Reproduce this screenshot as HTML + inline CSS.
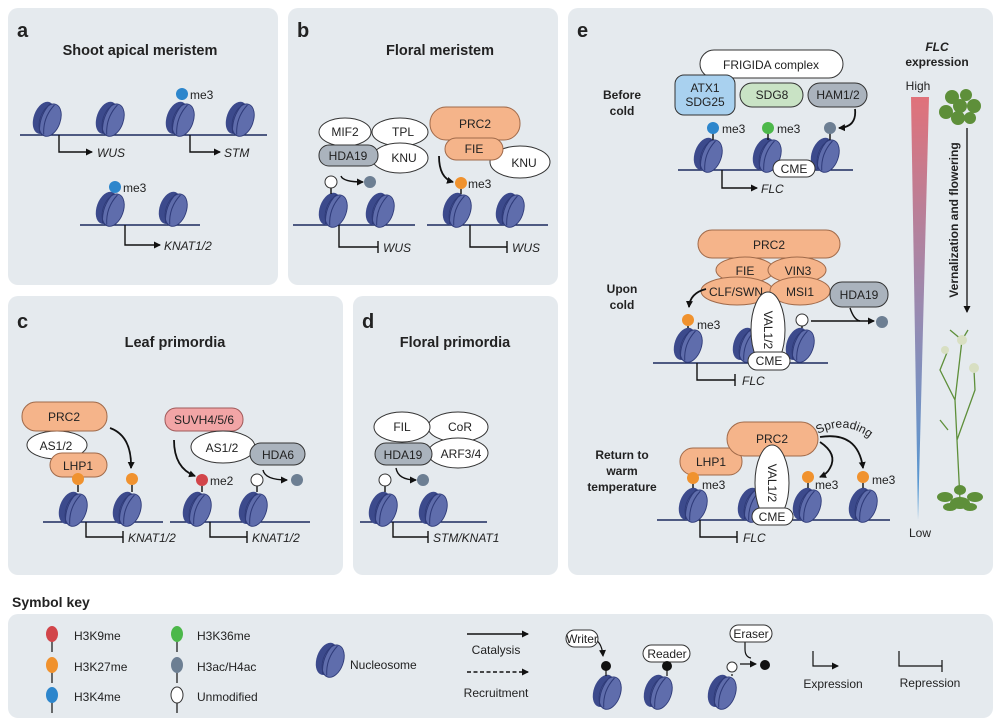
<!DOCTYPE html>
<html><head><meta charset="utf-8"><style>
html,body{margin:0;padding:0;background:#fff}
svg{display:block}
text{font-family:"Liberation Sans",sans-serif;fill:#222}
.t{font-size:12px}
.b{font-weight:bold}
.i{font-style:italic}
.h{font-size:14.5px;font-weight:bold}
.L{font-size:20px;font-weight:bold}
</style></head><body>
<svg width="1000" height="725" viewBox="0 0 1000 725" xmlns="http://www.w3.org/2000/svg">
<defs>
<g id="nuc"><g transform="translate(0,2) scale(1.12) rotate(20)">
<ellipse cx="-3" cy="0" rx="9" ry="15" fill="#3c4a8c"/>
<ellipse cx="3" cy="0" rx="9" ry="15" fill="#5f6dac" stroke="#2e3a78" stroke-width="0.8"/>
<path d="M-2,-14 q-6 14 0 28 M2,-14 q-6 14 0 28" stroke="#2e3a78" fill="none" stroke-width="0.9"/>
</g></g>
<marker id="ah" markerWidth="8" markerHeight="8" refX="6" refY="4" orient="auto" markerUnits="userSpaceOnUse"><path d="M0,0.5 L7,4 L0,7.5z" fill="#111"/></marker>
<linearGradient id="gr" x1="0" y1="0" x2="0" y2="1"><stop offset="0" stop-color="#e0727a"/><stop offset="0.5" stop-color="#9a8ab0"/><stop offset="1" stop-color="#4a9ad8"/></linearGradient>
</defs>

<g fill="#e5eaee">
<rect x="8" y="8" width="270" height="277" rx="10"/>
<rect x="288" y="8" width="270" height="277" rx="10"/>
<rect x="8" y="296" width="335" height="279" rx="10"/>
<rect x="353" y="296" width="205" height="279" rx="10"/>
<rect x="568" y="8" width="425" height="567" rx="10"/>
<rect x="8" y="614" width="985" height="104" rx="10"/>
</g>

<g stroke="#1d2a5e" stroke-width="1.6" fill="none">
<path d="M20,135 H150 M147,135 H267 M80,225 H200 M293,225 H415 M427,225 H548 M43,522 H163 M170,522 H310 M360,522 H487 M678,170 H853 M653,363 H828 M657,520 H890"/>
</g>

<!-- panel a -->
<text x="17" y="37" class="L">a</text>
<text x="140" y="55" class="h" text-anchor="middle">Shoot apical meristem</text>
<use href="#nuc" x="47" y="117"/><use href="#nuc" x="110" y="117"/>
<use href="#nuc" x="180" y="117"/><use href="#nuc" x="240" y="117"/>
<use href="#nuc" x="110" y="207"/><use href="#nuc" x="173" y="207"/>
<g stroke="#111" stroke-width="1.4" fill="none">
<path d="M59,135 V152 H92" marker-end="url(#ah)"/>
<path d="M190,135 V152 H220" marker-end="url(#ah)"/>
<path d="M125,225 V245 H160" marker-end="url(#ah)"/>
<path d="M182,100 V94 M115,190 V187"/>
</g>
<circle cx="182" cy="94" r="6" fill="#2d86cc"/><text x="190" y="99" class="t">me3</text>
<circle cx="115" cy="187" r="6" fill="#2d86cc"/><text x="123" y="192" class="t">me3</text>
<text x="97" y="157" class="t i">WUS</text>
<text x="224" y="157" class="t i">STM</text>
<text x="164" y="250" class="t i">KNAT1/2</text>

<!-- panel b -->
<text x="297" y="37" class="L">b</text>
<text x="440" y="55" class="h" text-anchor="middle">Floral meristem</text>
<g stroke="#333" stroke-width="1">
<ellipse cx="400" cy="132" rx="28" ry="14" fill="#fff"/>
<ellipse cx="400" cy="158" rx="28" ry="15" fill="#fff"/>
<ellipse cx="345" cy="132" rx="26" ry="14" fill="#fff"/>
<rect x="319" y="145" width="59" height="21" rx="10" fill="#aab3bd"/>
<ellipse cx="520" cy="162" rx="30" ry="16" fill="#fff"/>
<rect x="430" y="107" width="90" height="33" rx="16" fill="#f5b48a" stroke="#a06a4a"/>
<rect x="445" y="138" width="58" height="22" rx="11" fill="#f5b48a" stroke="#a06a4a"/>
</g>
<text x="345" y="136" class="t" text-anchor="middle">MIF2</text>
<text x="403" y="136" class="t" text-anchor="middle">TPL</text>
<text x="348" y="160" class="t" text-anchor="middle">HDA19</text>
<text x="404" y="162" class="t" text-anchor="middle">KNU</text>
<text x="475" y="128" class="t" text-anchor="middle">PRC2</text>
<text x="474" y="153" class="t" text-anchor="middle">FIE</text>
<text x="524" y="167" class="t" text-anchor="middle">KNU</text>
<use href="#nuc" x="333" y="208"/><use href="#nuc" x="380" y="208"/>
<use href="#nuc" x="457" y="208"/><use href="#nuc" x="510" y="208"/>
<g stroke="#111" stroke-width="1.4" fill="none">
<path d="M339,225 V247 H378 M378,241 V253 M470,225 V247 H507 M507,241 V253"/>
<path d="M341,176 q2,6 22,6" marker-end="url(#ah)"/>
<path d="M439,156 q0,22 14,26" marker-end="url(#ah)" stroke-width="1.8"/>
<path d="M331,194 V188 M461,194 V189"/>
</g>
<circle cx="331" cy="182" r="6" fill="#fff" stroke="#333"/>
<circle cx="370" cy="182" r="6" fill="#6d7f93"/>
<circle cx="461" cy="183" r="6" fill="#f0922e"/><text x="468" y="188" class="t">me3</text>
<text x="383" y="252" class="t i">WUS</text>
<text x="512" y="252" class="t i">WUS</text>

<!-- panel c -->
<text x="17" y="328" class="L">c</text>
<text x="175" y="347" class="h" text-anchor="middle">Leaf primordia</text>
<g stroke="#333" stroke-width="1">
<ellipse cx="57" cy="445" rx="30" ry="14" fill="#fff"/>
<rect x="22" y="402" width="85" height="29" rx="14" fill="#f5b48a" stroke="#a06a4a"/>
<rect x="50" y="453" width="57" height="24" rx="12" fill="#f5b48a" stroke="#a06a4a"/>
<rect x="165" y="408" width="78" height="23" rx="11" fill="#f2a5a6" stroke="#a05a5a"/>
<ellipse cx="223" cy="447" rx="32" ry="16" fill="#fff"/>
<rect x="250" y="443" width="55" height="22" rx="11" fill="#aab3bd"/>
</g>
<text x="64" y="421" class="t" text-anchor="middle">PRC2</text>
<text x="56" y="450" class="t" text-anchor="middle">AS1/2</text>
<text x="78" y="470" class="t" text-anchor="middle">LHP1</text>
<text x="204" y="424" class="t" text-anchor="middle">SUVH4/5/6</text>
<text x="222" y="452" class="t" text-anchor="middle">AS1/2</text>
<text x="278" y="459" class="t" text-anchor="middle">HDA6</text>
<use href="#nuc" x="73" y="507"/><use href="#nuc" x="127" y="507"/>
<use href="#nuc" x="197" y="507"/><use href="#nuc" x="253" y="507"/>
<g stroke="#111" stroke-width="1.4" fill="none">
<path d="M86,522 V537 H123 M123,531 V543 M210,522 V537 H247 M247,531 V543"/>
<path d="M110,428 q22,8 21,40" marker-end="url(#ah)" stroke-width="1.8"/>
<path d="M174,440 q0,28 21,36" marker-end="url(#ah)" stroke-width="1.8"/>
<path d="M263,470 q2,10 24,10" marker-end="url(#ah)"/>
<path d="M78,492 V485 M132,492 V485 M202,492 V486 M257,492 V486"/>
</g>
<circle cx="78" cy="479" r="6" fill="#f0922e"/>
<circle cx="132" cy="479" r="6" fill="#f0922e"/>
<circle cx="202" cy="480" r="6" fill="#d2454a"/><text x="210" y="485" class="t">me2</text>
<circle cx="257" cy="480" r="6" fill="#fff" stroke="#333"/>
<circle cx="297" cy="480" r="6" fill="#6d7f93"/>
<text x="128" y="542" class="t i">KNAT1/2</text>
<text x="252" y="542" class="t i">KNAT1/2</text>

<!-- panel d -->
<text x="362" y="328" class="L">d</text>
<text x="455" y="347" class="h" text-anchor="middle">Floral primordia</text>
<g stroke="#333" stroke-width="1">
<ellipse cx="458" cy="427" rx="30" ry="15" fill="#fff"/>
<ellipse cx="458" cy="453" rx="30" ry="15" fill="#fff"/>
<ellipse cx="402" cy="427" rx="28" ry="15" fill="#fff"/>
<rect x="375" y="443" width="57" height="22" rx="11" fill="#aab3bd"/>
</g>
<text x="402" y="431" class="t" text-anchor="middle">FIL</text>
<text x="460" y="431" class="t" text-anchor="middle">CoR</text>
<text x="403" y="459" class="t" text-anchor="middle">HDA19</text>
<text x="461" y="458" class="t" text-anchor="middle">ARF3/4</text>
<use href="#nuc" x="383" y="507"/><use href="#nuc" x="433" y="507"/>
<g stroke="#111" stroke-width="1.4" fill="none">
<path d="M393,522 V537 H428 M428,531 V543"/>
<path d="M396,468 q2,12 20,12" marker-end="url(#ah)"/>
<path d="M385,492 V486"/>
</g>
<circle cx="385" cy="480" r="6" fill="#fff" stroke="#333"/>
<circle cx="423" cy="480" r="6" fill="#6d7f93"/>
<text x="433" y="542" class="t i">STM/KNAT1</text>

<!-- panel e -->
<text x="577" y="37" class="L">e</text>
<text x="622" y="99" class="t b" text-anchor="middle" font-size="12.5">Before</text>
<text x="622" y="115" class="t b" text-anchor="middle" font-size="12.5">cold</text>
<text x="622" y="293" class="t b" text-anchor="middle" font-size="12.5">Upon</text>
<text x="622" y="309" class="t b" text-anchor="middle" font-size="12.5">cold</text>
<text x="622" y="459" class="t b" text-anchor="middle" font-size="12.5">Return to</text>
<text x="622" y="475" class="t b" text-anchor="middle" font-size="12.5">warm</text>
<text x="622" y="491" class="t b" text-anchor="middle" font-size="12.5">temperature</text>

<g stroke="#333" stroke-width="1">
<rect x="700" y="50" width="143" height="28" rx="14" fill="#fff"/>
<rect x="740" y="83" width="63" height="24" rx="12" fill="#c9e3c5"/>
<rect x="808" y="83" width="59" height="24" rx="12" fill="#aab3bd"/>
<rect x="675" y="75" width="60" height="40" rx="9" fill="#a9d1ef"/>
</g>
<text x="771" y="69" class="t" text-anchor="middle">FRIGIDA complex</text>
<text x="705" y="92" class="t" text-anchor="middle">ATX1</text>
<text x="705" y="106" class="t" text-anchor="middle">SDG25</text>
<text x="772" y="99" class="t" text-anchor="middle">SDG8</text>
<text x="838" y="99" class="t" text-anchor="middle">HAM1/2</text>
<use href="#nuc" x="708" y="153"/><use href="#nuc" x="767" y="153"/><use href="#nuc" x="825" y="153"/>
<rect x="773" y="160" width="42" height="17" rx="8.5" fill="#fff" stroke="#333"/>
<text x="794" y="173" class="t" text-anchor="middle">CME</text>
<g stroke="#111" stroke-width="1.4" fill="none">
<path d="M722,170 V188 H757" marker-end="url(#ah)"/>
<path d="M855,109 q2,18 -16,19" marker-end="url(#ah)" stroke-width="1.8"/>
<path d="M713,140 V133 M768,140 V133 M830,140 V133"/>
</g>
<circle cx="713" cy="128" r="6" fill="#2d86cc"/><text x="722" y="133" class="t">me3</text>
<circle cx="768" cy="128" r="6" fill="#4cb84a"/><text x="777" y="133" class="t">me3</text>
<circle cx="830" cy="128" r="6" fill="#6d7f93"/>
<text x="761" y="193" class="t i">FLC</text>

<g stroke="#a06a4a" stroke-width="1" fill="#f5b48a">
<rect x="698" y="230" width="142" height="28" rx="14"/>
<ellipse cx="745" cy="270" rx="29" ry="13"/>
<ellipse cx="797" cy="270" rx="29" ry="13"/>
<ellipse cx="737" cy="291" rx="36" ry="14"/>
<ellipse cx="800" cy="291" rx="30" ry="14"/>
</g>
<rect x="830" y="282" width="58" height="25" rx="12" fill="#aab3bd" stroke="#333"/>
<text x="769" y="249" class="t" text-anchor="middle">PRC2</text>
<text x="745" y="275" class="t" text-anchor="middle">FIE</text>
<text x="798" y="275" class="t" text-anchor="middle">VIN3</text>
<text x="736" y="296" class="t" text-anchor="middle">CLF/SWN</text>
<text x="800" y="296" class="t" text-anchor="middle">MSI1</text>
<text x="859" y="299" class="t" text-anchor="middle">HDA19</text>
<use href="#nuc" x="688" y="343"/><use href="#nuc" x="747" y="343"/><use href="#nuc" x="800" y="343"/>
<ellipse cx="768" cy="330" rx="17" ry="38" fill="#fff" stroke="#333"/>
<text x="768" y="330" class="t" text-anchor="middle" transform="rotate(90 768 330)" dy="4">VAL1/2</text>
<rect x="748" y="352" width="42" height="18" rx="9" fill="#fff" stroke="#333"/>
<text x="769" y="365" class="t" text-anchor="middle">CME</text>
<g stroke="#111" stroke-width="1.4" fill="none">
<path d="M697,363 V380 H735 M735,374 V386"/>
<path d="M706,289 q-16,4 -17,18" marker-end="url(#ah)" stroke-width="1.8"/>
<path d="M811,321 H874" marker-end="url(#ah)"/>
<path d="M850,308 q4,12 10,13"/>
<path d="M688,328 V326 M802,328 V326"/>
</g>
<circle cx="688" cy="320" r="6" fill="#f0922e"/><text x="697" y="329" class="t">me3</text>
<circle cx="802" cy="320" r="6" fill="#fff" stroke="#333"/>
<circle cx="882" cy="322" r="6" fill="#6d7f93"/>
<text x="742" y="385" class="t i">FLC</text>

<g stroke="#a06a4a" stroke-width="1" fill="#f5b48a">
<rect x="680" y="448" width="62" height="27" rx="13"/>
<rect x="727" y="422" width="91" height="34" rx="17"/>
</g>
<text x="711" y="466" class="t" text-anchor="middle">LHP1</text>
<text x="772" y="443" class="t" text-anchor="middle">PRC2</text>
<use href="#nuc" x="693" y="503"/><use href="#nuc" x="752" y="503"/><use href="#nuc" x="807" y="503"/><use href="#nuc" x="863" y="503"/>
<ellipse cx="772" cy="483" rx="17" ry="38" fill="#fff" stroke="#333"/>
<text x="772" y="483" class="t" text-anchor="middle" transform="rotate(90 772 483)" dy="4">VAL1/2</text>
<rect x="752" y="508" width="41" height="17" rx="8.5" fill="#fff" stroke="#333"/>
<text x="772" y="521" class="t" text-anchor="middle">CME</text>
<g stroke="#111" stroke-width="1.4" fill="none">
<path d="M700,520 V537 H737 M737,531 V543"/>
<path d="M820,442 q18,12 10,26 q-3,6 -10,9" marker-end="url(#ah)" stroke-width="1.8"/>
<path d="M820,437 q38,-6 43,31" marker-end="url(#ah)" stroke-width="1.8"/>
<path d="M693,484 V488 M808,483 V488 M863,483 V488"/>
</g>
<path id="sp" d="M818,434 q30,-16 56,8" fill="none"/>
<text class="t" font-size="12"><textPath href="#sp">Spreading</textPath></text>
<circle cx="693" cy="478" r="6" fill="#f0922e"/><text x="702" y="489" class="t">me3</text>
<circle cx="808" cy="477" r="6" fill="#f0922e"/><text x="815" y="489" class="t">me3</text>
<circle cx="863" cy="477" r="6" fill="#f0922e"/><text x="872" y="484" class="t">me3</text>
<text x="743" y="542" class="t i">FLC</text>

<text x="937" y="51" class="t b i" text-anchor="middle" font-size="12.5">FLC</text>
<text x="937" y="66" class="t b" text-anchor="middle" font-size="12.5">expression</text>
<text x="918" y="90" class="t" text-anchor="middle" font-size="10.5">High</text>
<path d="M911,97 H929 L918,520 Z" fill="url(#gr)"/>
<text x="920" y="537" class="t" text-anchor="middle" font-size="10.5">Low</text>
<path d="M967,128 V312" stroke="#111" stroke-width="1.3" marker-end="url(#ah)"/>
<text x="958" y="220" class="t b" font-size="10.5" text-anchor="middle" transform="rotate(-90 958 220)">Vernalization and flowering</text>
<g fill="#5e8f3a">
<circle cx="952" cy="97" r="7"/><circle cx="966" cy="95" r="6"/><circle cx="974" cy="106" r="7"/><circle cx="946" cy="112" r="7"/>
<circle cx="958" cy="118" r="7"/><circle cx="970" cy="118" r="6"/><circle cx="960" cy="106" r="7"/>
</g>
<g stroke="#5e8f3a" stroke-width="1.3" fill="none">
<path d="M960,500 L955,400 L962,340 M955,400 L940,370 L948,350 M957,440 L975,390 L974,370 M962,340 L950,330 M962,340 L968,330 M948,430 L940,420"/>
</g>
<g fill="#d8dfc2"><circle cx="962" cy="340" r="5"/><circle cx="974" cy="368" r="5"/><circle cx="945" cy="350" r="4"/></g>
<g fill="#5e8f3a">
<ellipse cx="945" cy="497" rx="8" ry="5"/><ellipse cx="975" cy="497" rx="8" ry="5"/><ellipse cx="960" cy="503" rx="10" ry="6"/>
<ellipse cx="950" cy="507" rx="7" ry="4"/><ellipse cx="970" cy="507" rx="7" ry="4"/><ellipse cx="960" cy="490" rx="6" ry="5"/>
</g>

<!-- key -->
<text x="12" y="607" class="b" font-size="14">Symbol key</text>
<g stroke="#111" stroke-width="1.2">
<path d="M52,641 V652 M52,672 V683 M52,702 V713 M177,641 V652 M177,672 V683 M177,702 V713"/>
</g>
<ellipse cx="52" cy="634" rx="6" ry="8" fill="#d2454a"/>
<ellipse cx="52" cy="665" rx="6" ry="8" fill="#f0922e"/>
<ellipse cx="52" cy="695" rx="6" ry="8" fill="#2d86cc"/>
<ellipse cx="177" cy="634" rx="6" ry="8" fill="#4cb84a"/>
<ellipse cx="177" cy="665" rx="6" ry="8" fill="#6d7f93"/>
<ellipse cx="177" cy="695" rx="6" ry="8" fill="#fff" stroke="#333"/>
<text x="74" y="640" class="t">H3K9me</text>
<text x="74" y="671" class="t">H3K27me</text>
<text x="74" y="701" class="t">H3K4me</text>
<text x="197" y="640" class="t">H3K36me</text>
<text x="197" y="671" class="t">H3ac/H4ac</text>
<text x="197" y="701" class="t">Unmodified</text>
<use href="#nuc" x="330" y="658"/>
<text x="350" y="669" class="t">Nucleosome</text>
<g stroke="#111" stroke-width="1.4">
<path d="M467,634 H528" marker-end="url(#ah)"/>
<path d="M467,672 H528" stroke-dasharray="4,2.5" marker-end="url(#ah)"/>
</g>
<text x="496" y="654" class="t" text-anchor="middle">Catalysis</text>
<text x="496" y="697" class="t" text-anchor="middle">Recruitment</text>
<use href="#nuc" x="607" y="690"/><use href="#nuc" x="658" y="690"/><use href="#nuc" x="722" y="690"/>
<g stroke="#111" stroke-width="1.2" fill="none">
<path d="M606,676 V670 M667,676 V670 M732,676 V674"/>
<path d="M596,640 q6,4 7,16" marker-end="url(#ah)"/>
<path d="M745,642 v7 q0,8 6,9 M740,664 H756" marker-end="url(#ah)"/>
<path d="M813,651 V666 H838" marker-end="url(#ah)"/>
<path d="M899,651 V666 H942 M942,660 V672"/>
</g>
<g stroke="#333" stroke-width="1" fill="#fff">
<rect x="566" y="630" width="32" height="17" rx="8.5"/>
<rect x="643" y="645" width="47" height="17" rx="8.5"/>
<rect x="730" y="625" width="42" height="17" rx="8.5"/>
</g>
<text x="582" y="643" class="t" text-anchor="middle" font-size="11">Writer</text>
<text x="667" y="658" class="t" text-anchor="middle" font-size="11">Reader</text>
<text x="751" y="638" class="t" text-anchor="middle" font-size="11">Eraser</text>
<circle cx="606" cy="666" r="5" fill="#111"/>
<circle cx="667" cy="666" r="5" fill="#111"/>
<circle cx="732" cy="667" r="5" fill="#fff" stroke="#333"/>
<circle cx="765" cy="665" r="5" fill="#111"/>
<text x="833" y="688" class="t" text-anchor="middle">Expression</text>
<text x="930" y="687" class="t" text-anchor="middle">Repression</text>
</svg>
</body></html>
